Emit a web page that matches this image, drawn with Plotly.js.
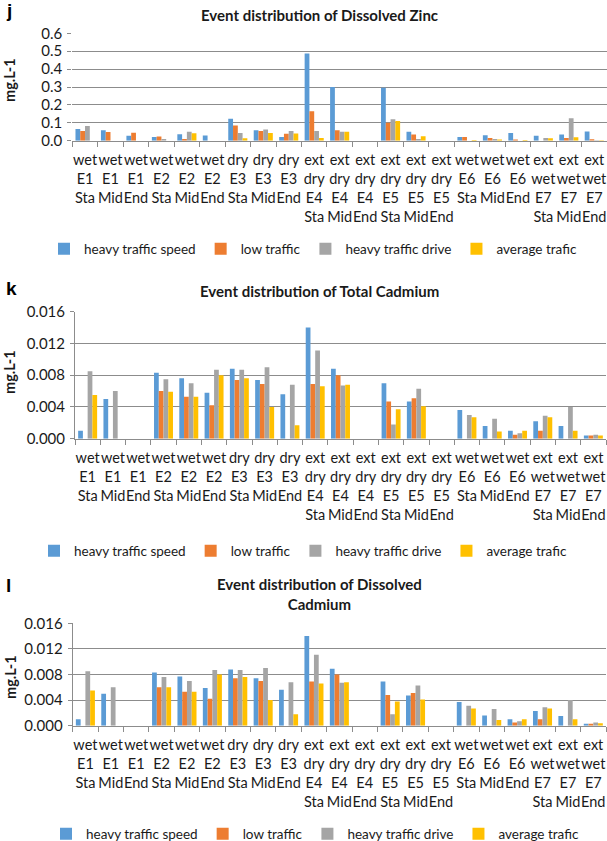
<!DOCTYPE html>
<html>
<head>
<meta charset="utf-8">
<script src="https://cdn.plot.ly/plotly-3.0.1.min.js"></script>
<style>
  html, body { margin: 0; padding: 0; background: #fff; overflow: hidden; }
  #chart { width: 607px; height: 860px; }
</style>
</head>
<body>
<div id="chart"></div>
<script>
// ---------- data ----------
const categories = [
  "wet E1 Sta", "wet E1 Mid", "wet E1 End",
  "wet E2 Sta", "wet E2 Mid", "wet E2 End",
  "dry E3 Sta", "dry E3 Mid", "dry E3 End",
  "ext dry E4 Sta", "ext dry E4 Mid", "ext dry E4 End",
  "ext dry E5 Sta", "ext dry E5 Mid", "ext dry E5 End",
  "wet E6 Sta", "wet E6 Mid", "wet E6 End",
  "ext wet E7 Sta", "ext wet E7 Mid", "ext wet E7 End"
];
const seriesNames = ["heavy traffic speed", "low traffic", "heavy traffic drive", "average trafic"];
const seriesColors = ["#5B9BD5", "#ED7D31", "#A5A5A5", "#FFC000"];

// (j) Dissolved Zinc, mg.L-1
const zincSpeed = [0.065, 0.058, 0.027, 0.020, 0.036, 0.029, 0.122, 0.058, 0.020, 0.487, 0.300, null, 0.296, 0.050, null, 0.021, 0.031, 0.043, 0.028, 0.035, 0.051];
const zincLow   = [0.054, 0.048, 0.045, 0.023, 0.009, null, 0.085, 0.054, 0.039, 0.164, 0.058, null, 0.100, 0.034, null, 0.021, 0.015, 0.007, null, 0.015, 0.008];
const zincDrive = [0.082, null, null, 0.009, 0.050, null, 0.043, 0.063, 0.054, 0.054, 0.050, null, 0.120, 0.009, null, null, 0.009, null, 0.015, 0.126, 0.003];
const zincAvg   = [null, null, null, null, 0.041, null, 0.013, 0.043, 0.040, 0.015, 0.050, null, 0.110, 0.025, null, 0.004, 0.007, 0.004, 0.013, 0.019, 0.003];

// (k) Total Cadmium, mg.L-1
const totCdSpeed = [0.0010, 0.0050, null, 0.0083, 0.0076, 0.0058, 0.0088, 0.0074, 0.0056, 0.0140, 0.0088, null, 0.0070, 0.0047, null, 0.0036, 0.0016, 0.0010, 0.0022, 0.0016, 0.0004];
const totCdLow   = [null, null, null, 0.0060, 0.0053, 0.0042, 0.0074, 0.0069, null, 0.0069, 0.0080, null, 0.0047, 0.0051, null, null, null, 0.0005, 0.0010, null, 0.0004];
const totCdDrive = [0.0085, 0.0060, null, 0.0075, 0.0070, 0.0087, 0.0087, 0.0090, 0.0068, 0.0111, 0.0067, null, 0.0018, 0.0063, null, 0.0030, 0.0025, 0.0007, 0.0029, 0.0040, 0.0005];
const totCdAvg   = [0.0055, null, null, 0.0059, 0.0053, 0.0080, 0.0076, 0.0040, 0.0017, 0.0066, 0.0068, null, 0.0037, 0.0041, null, 0.0027, 0.0009, 0.0010, 0.0027, 0.0010, 0.0004];

// (l) Dissolved Cadmium, mg.L-1
const disCdSpeed = [0.0010, 0.0050, null, 0.0083, 0.0077, 0.0059, 0.0088, 0.0074, 0.0056, 0.0140, 0.0089, null, 0.0069, 0.0047, null, 0.0037, 0.0016, 0.0010, 0.0023, 0.0015, 0.0003];
const disCdLow   = [null, null, null, 0.0060, 0.0053, 0.0042, 0.0074, 0.0070, null, 0.0069, 0.0080, null, 0.0048, 0.0051, null, null, null, 0.0005, 0.0010, null, 0.0003];
const disCdDrive = [0.0085, 0.0060, null, 0.0076, 0.0070, 0.0087, 0.0087, 0.0090, 0.0068, 0.0111, 0.0067, null, 0.0018, 0.0063, null, 0.0031, 0.0026, 0.0007, 0.0029, 0.0040, 0.0005];
const disCdAvg   = [0.0055, null, null, 0.0060, 0.0053, 0.0080, 0.0076, 0.0040, 0.0018, 0.0066, 0.0068, null, 0.0038, 0.0041, null, 0.0027, 0.0009, 0.0010, 0.0027, 0.0010, 0.0004];

const panelTitles = ["Event distribution of Dissolved Zinc", "Event distribution of Total Cadmium", "Event distribution of Dissolved<br>Cadmium"];
const panelLetters = ["j", "k", "l"];
const yAxisTitle = "mg.L-1";

// ---------- layout helpers ----------
const W = 607, H = 860;
const fx = p => p / W;
const fy = p => 1 - p / H;
const FONT = "Lato, 'Open Sans', 'Liberation Sans', sans-serif";
const TXT = "#1a1a1a";
const GRID = "#8c8c8c";

const tickLabels = categories.map(c => c.split(" ").join("<br>"));

const panels = [
  { series: [zincSpeed, zincLow, zincDrive, zincAvg], range: [0, 0.6], dtick: 0.1, fmt: ".1f",
    left: 72.3, right: 607, top: 33.3, bottom: 140.7, yline: false,
    legendX: 44, legendY: 249, titleY: 15, letterY: 10, ytitleY: 80 },
  { series: [totCdSpeed, totCdLow, totCdDrive, totCdAvg], range: [0, 0.016], dtick: 0.004, fmt: ".3f",
    left: 75, right: 606, top: 311.7, bottom: 438.7, yline: true,
    legendX: 34, legendY: 551, titleY: 290.7, letterY: 288, ytitleY: 372 },
  { series: [disCdSpeed, disCdLow, disCdDrive, disCdAvg], range: [0, 0.016], dtick: 0.004, fmt: ".3f",
    left: 72.7, right: 606, top: 623.3, bottom: 725.7, yline: true,
    legendX: 46, legendY: 834, titleY: 594, letterY: 585, ytitleY: 677 }
];

const traces = [];
const layout = {
  width: W, height: H,
  margin: { l: 0, r: 0, t: 0, b: 0 },
  paper_bgcolor: "#fff", plot_bgcolor: "#fff",
  barmode: "group", bargap: 0.25, bargroupgap: 0,
  font: { family: FONT, size: 14, color: TXT },
  annotations: []
};

panels.forEach((p, i) => {
  const n = i === 0 ? "" : String(i + 1);
  const xName = "x" + n, yName = "y" + n;
  const legName = "legend" + n;
  p.series.forEach((vals, s) => {
    traces.push({
      type: "bar",
      name: seriesNames[s],
      x: tickLabels,
      y: vals,
      xaxis: xName, yaxis: yName,
      legend: legName,
      marker: { color: seriesColors[s], line: { width: 0 } },
      hoverinfo: "skip"
    });
  });
  layout["xaxis" + n] = {
    domain: [fx(p.left), fx(p.right)],
    anchor: yName,
    type: "category",
    categoryorder: "array", categoryarray: tickLabels,
    tickmode: "linear", tick0: 0, dtick: 1,
    tickson: "boundaries",
    ticks: "outside", ticklen: 5, tickcolor: GRID, tickwidth: 1,
    showline: true, linecolor: GRID, linewidth: 1,
    showgrid: false, zeroline: false,
    tickangle: 0,
    ticklabelstandoff: 6,
    tickfont: { family: FONT, size: 14.5, color: TXT },
    fixedrange: true
  };
  layout["yaxis" + n] = {
    domain: [fy(p.bottom), fy(p.top)],
    anchor: xName,
    range: p.range, tick0: 0, dtick: p.dtick, tickformat: p.fmt,
    showgrid: true, gridcolor: GRID, gridwidth: 1,
    zeroline: false,
    showline: p.yline, linecolor: GRID, linewidth: 1,
    ticks: "outside", ticklen: 4, tickcolor: GRID,
    ticklabelstandoff: 2,
    tickfont: { family: FONT, size: 15, color: TXT },
    fixedrange: true
  };
  layout[legName] = {
    orientation: "h",
    x: fx(p.legendX), xanchor: "left",
    y: fy(p.legendY), yanchor: "middle",
    bgcolor: "rgba(0,0,0,0)",
    font: { family: FONT, size: 13.5, color: TXT },
    itemclick: false, itemdoubleclick: false,
    traceorder: "normal"
  };
  layout.annotations.push({
    text: "<b>" + panelTitles[i] + "</b>",
    xref: "paper", yref: "paper",
    x: fx(319), y: fy(p.titleY),
    xanchor: "center", yanchor: "middle",
    showarrow: false,
    font: { family: FONT, size: 15, color: TXT }
  });
  layout.annotations.push({
    text: "<b>" + panelLetters[i] + "</b>",
    xref: "paper", yref: "paper",
    x: fx(4), y: fy(p.letterY),
    xanchor: "left", yanchor: "middle",
    showarrow: false,
    font: { family: "'Liberation Sans', Arial, sans-serif", size: 19, color: "#000" }
  });
  layout.annotations.push({
    text: "<b>" + yAxisTitle + "</b>",
    xref: "paper", yref: "paper",
    x: fx(10), y: fy(p.ytitleY),
    xanchor: "center", yanchor: "middle",
    textangle: -90,
    showarrow: false,
    font: { family: FONT, size: 14.5, color: TXT }
  });
});

Plotly.newPlot("chart", traces, layout, { staticPlot: true, displayModeBar: false });
</script>
</body>
</html>
